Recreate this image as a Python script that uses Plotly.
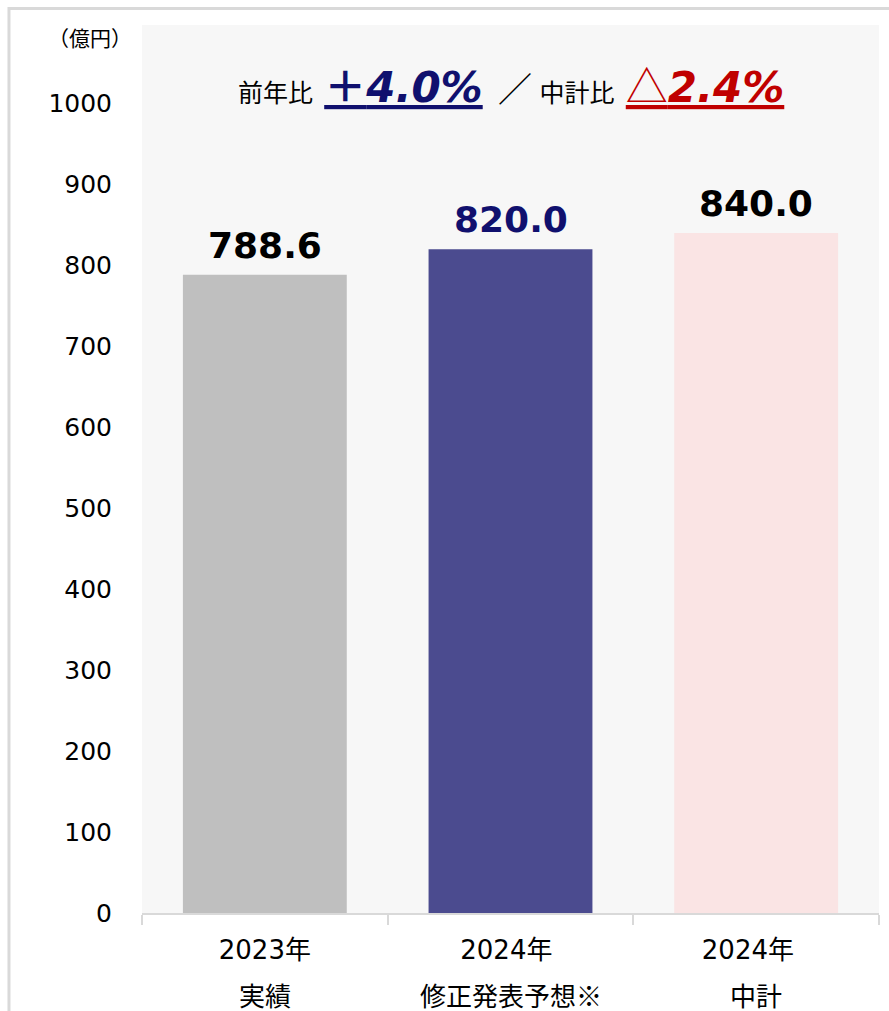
import plotly.graph_objects as go

# data
categories = ['2023年', '2024年 ', '2024年  ']
sublabels = ['実績', '修正発表予想※', '中計']
values = [788.6, 820.0, 840.0]
value_labels = ['788.6', '820.0', '840.0']
bar_colors = ['#BFBFBF', '#4B4B8F', '#FAE4E4']
label_colors = ['#000000', '#10106E', '#000000']
yticks = [0, 100, 200, 300, 400, 500, 600, 700, 800, 900, 1000]

JP = 'Noto Sans CJK JP'
NUM = 'DejaVu Sans, Noto Sans CJK JP'
NB = '\u00a0'

fig = go.Figure()
fig.add_trace(go.Bar(
    x=categories, y=values,
    marker=dict(color=bar_colors, line=dict(width=0)),
    width=0.667, hoverinfo='x+y',
))

# value labels above the bars
for c, v, t, col in zip(categories, values, value_labels, label_colors):
    fig.add_annotation(x=c, y=v, yanchor='bottom', yshift=7, text='<b>' + t + '</b>',
                       showarrow=False,
                       font=dict(family='DejaVu Sans', size=36, color=col))

# second line of the category labels
for c, s in zip(categories, sublabels):
    fig.add_annotation(x=c, y=0, yref='paper', yanchor='middle', yshift=-81,
                       text=s, showarrow=False,
                       font=dict(family=JP, size=26, color='#000000'))

fig.add_annotation(x=-0.07, y=1.0, xref='paper', yref='paper',
                   xanchor='center', yanchor='middle', yshift=-12,
                   text='（億円）', showarrow=False,
                   font=dict(family=JP, size=21, color='#000000'))

head = ("<span style='font-size:25px'>前年比" + NB + NB + "</span>"
        "<span style='font-size:42px;color:#10106E;text-decoration:underline'>"
        "<b><span style='font-family:Noto Sans CJK JP'>＋</span>"
        "<i><span style='font-family:DejaVu Sans'>4.0%</span></i></b></span>"
        "<span style='font-size:34px'>" + NB + NB + "／" + NB + "</span>"
        "<span style='font-size:25px'>中計比" + NB + NB + "</span>"
        "<span style='font-size:42px;color:#C00000;text-decoration:underline'>"
        "<span style='font-family:Noto Sans CJK JP'>△</span>"
        "<b><i><span style='font-family:DejaVu Sans'>2.4%</span></i></b></span>")
fig.add_annotation(x=0.5, y=1.0, xref='paper', yref='paper',
                   xanchor='center', yanchor='top', yshift=-26,
                   text=head, showarrow=False,
                   font=dict(family=JP, size=24, color='#000000'))

# outer frame (cropped at right / bottom)
fig.add_shape(type='rect', xref='paper', yref='paper',
              x0=-0.1805, x1=1.5, y0=-0.5, y1=1.0186,
              line=dict(color='#D9D9D9', width=3), layer='below')

fig.update_layout(
    width=889, height=1011,
    margin=dict(l=142, r=10, t=25, b=98),
    paper_bgcolor='#FFFFFF', plot_bgcolor='#F7F7F7',
    showlegend=False, bargap=0.333,
    font=dict(family=JP, size=24, color='#000000'),
)
fig.update_xaxes(type='category', tickson='boundaries', ticks='outside',
                 ticklen=10, tickcolor='#D9D9D9', tickwidth=2,
                 showline=True, linecolor='#D9D9D9', linewidth=2,
                 showgrid=False, ticklabelstandoff=13,
                 tickfont=dict(family=NUM, size=26))
fig.update_yaxes(range=[0, 1097], tickvals=yticks, showgrid=False,
                 zeroline=False, showline=False, ticks='',
                 ticklabelstandoff=29,
                 tickfont=dict(family='DejaVu Sans', size=25))

fig.write_html('out.html', config={'displayModeBar': False},
               post_script="document.body.style.margin='0';")
